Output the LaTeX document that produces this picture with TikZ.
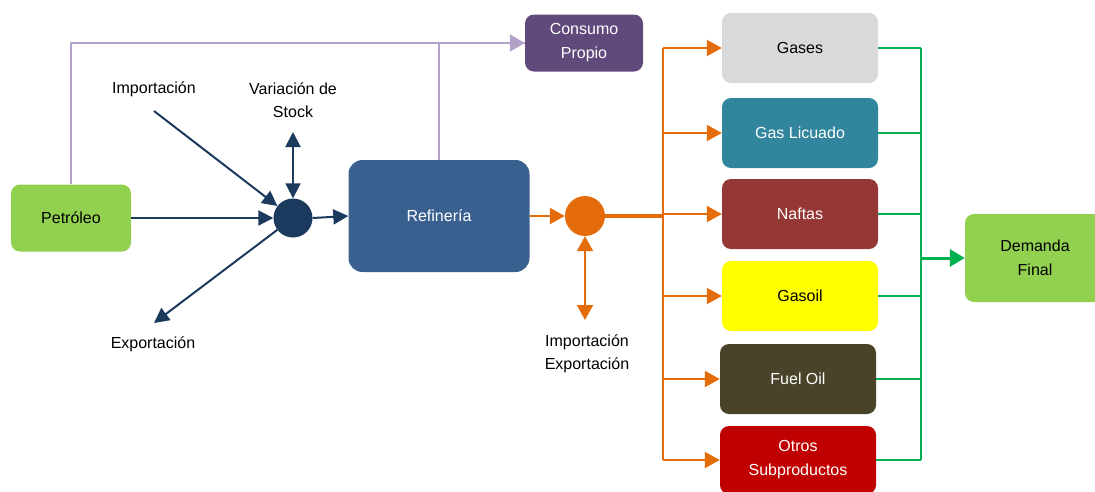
\documentclass[tikz,border=0pt]{standalone}
\usepackage{fontspec}
\setmainfont{Liberation Sans}
\usetikzlibrary{arrows.meta,shapes.geometric}
\definecolor{petgreen}{HTML}{92D050}
\definecolor{consumo}{HTML}{604A7B}
\definecolor{lilac}{HTML}{B3A2C7}
\definecolor{navy}{HTML}{1B3A5E}
\definecolor{refblue}{HTML}{3A6090}
\definecolor{orng}{HTML}{E46C0A}
\definecolor{gasgray}{HTML}{D9D9D9}
\definecolor{teal}{HTML}{31859C}
\definecolor{nafta}{HTML}{953735}
\definecolor{gasoilyellow}{HTML}{FFFF00}
\definecolor{fuel}{HTML}{494429}
\definecolor{otros}{HTML}{C00000}
\definecolor{grn}{HTML}{00B050}
\tikzstyle{box} = [rectangle, rounded corners=9pt, align=center, font=\fontsize{16}{24}\selectfont]
\tikzstyle{product} = [box, minimum width=156pt, minimum height=70pt]
\tikzstyle{hubnode} = [circle, minimum size=39pt, inner sep=0pt]
\tikzstyle{lbl} = [align=center, font=\fontsize{16}{23}\selectfont]
\tikzstyle{navyarrow} = [navy, line width=2pt, -{Triangle[width=15pt,length=15pt]}]
\tikzstyle{navydouble} = [navy, line width=2pt, {Triangle[width=15pt,length=15pt]}-{Triangle[width=15pt,length=15pt]}]
\tikzstyle{purpleline} = [lilac, line width=2pt]
\tikzstyle{orangeline} = [orng, line width=2pt]
\tikzstyle{orangearrow} = [orangeline, -{Triangle[width=16pt,length=15pt]}]
\tikzstyle{orangedouble} = [orangeline, {Triangle[width=16pt,length=15pt]}-{Triangle[width=16pt,length=15pt]}]
\tikzstyle{greenline} = [grn, line width=1.5pt]
\begin{document}
\begin{tikzpicture}[x=1pt, y=-1pt]
\useasboundingbox (0,0) rectangle (1095,491);

\node(petroleo) [box, fill=petgreen, minimum width=120pt, minimum height=67pt] at (71,218) {Petróleo};
\node(consumo) [box, fill=consumo, text=white, minimum width=118pt, minimum height=57pt] at (584,43) {Consumo\\Propio};
\node(hub) [hubnode, fill=navy] at (293,218) {};
\node(refineria) [box, rounded corners=14pt, fill=refblue, text=white, minimum width=181pt, minimum height=112pt] at (439,216) {Refinería};
\node(ohub) [hubnode, fill=orng, minimum size=40pt] at (585,216) {};

\node(importacion) [lbl] at (154,89) {Importación};
\node(variacion) [lbl] at (293,100) {Variación de\\Stock};
\node(exportacion) [lbl] at (153,344) {Exportación};
\node(impexp) [lbl] at (587,354) {Importación\\Exportación};

\node(gases)   [product, fill=gasgray] at (800,48) {Gases};
\node(licuado) [product, fill=teal, text=white] at (800,133) {Gas Licuado};
\node(naftas)  [product, fill=nafta, text=white] at (800,214) {Naftas};
\node(gasoil)  [product, fill=gasoilyellow] at (800,296) {Gasoil};
\node(fueloil) [product, fill=fuel, text=white] at (798,379) {Fuel Oil};
\node(subprod) [product, fill=otros, text=white, minimum height=68pt] at (798,460) {Otros\\Subproductos};
\node(demanda) [box, fill=petgreen, minimum width=140pt, minimum height=88pt] at (1035,258) {Demanda\\Final};

\coordinate(impstart) at (154,111);
\coordinate(stockend) at (293,132);
\coordinate(expend) at (154,323);
\coordinate(ieend) at (585,320);
\coordinate(obus) at (663,216);
\coordinate(gbus) at (921,258);

% crude side
\draw [purpleline] (petroleo.north) |- (consumo.west);
\draw [purpleline] (refineria.north) -- (refineria.north |- consumo.west);
\draw [purpleline, -{Triangle[width=17pt,length=15pt]}] (refineria.north |- consumo.west) -- (consumo.west);
\draw [navyarrow] (impstart) -- (hub);
\draw [navydouble] (stockend) -- (hub.north);
\draw [navyarrow] (hub) -- (expend);
\draw [navyarrow] (petroleo.east) -- (hub.west);
\draw [navyarrow] (hub.east) -- (refineria.west);

% products side
\draw [orangearrow] (refineria.east) -- (ohub.west);
\draw [orangedouble] (ohub.south) -- (ieend);
\draw [orng, line width=4pt] (ohub.east) -- (obus);
\draw [orangeline] (obus |- gases.west) -- (obus |- subprod.west);
\foreach \p in {gases,licuado,naftas,gasoil,fueloil,subprod}
  \draw [orangearrow] (obus |- \p.west) -- (\p.west);

\foreach \p in {gases,licuado,naftas,gasoil,fueloil,subprod}
  \draw [greenline] (\p.east) -- (gbus |- \p.east);
\draw [greenline] (gbus |- gases.east) -- (gbus |- subprod.east);
\draw [grn, line width=3pt, -{Triangle[width=17pt,length=15pt]}] (gbus) -- (demanda.west);

\end{tikzpicture}
\end{document}
